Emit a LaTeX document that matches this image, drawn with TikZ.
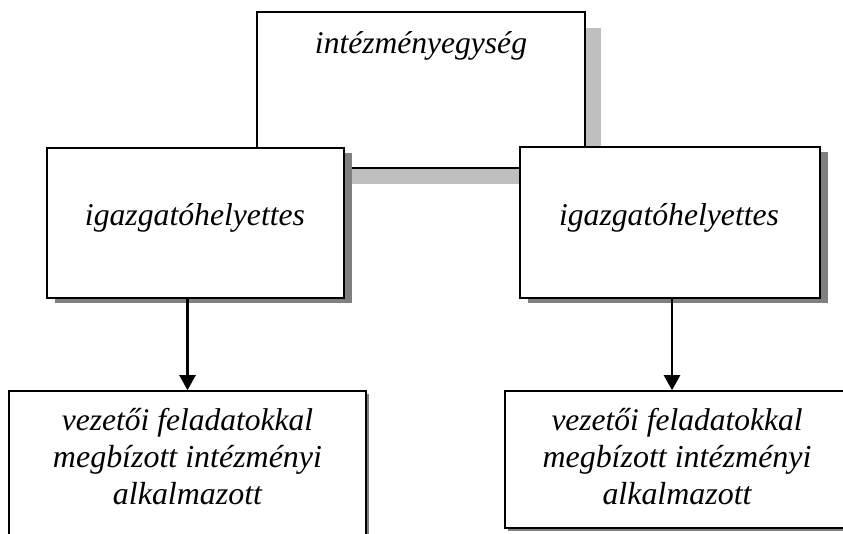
\documentclass[tikz,border=0pt]{standalone}
\usepackage{fontspec}
\setmainfont{Liberation Serif}[ItalicFont={Liberation Serif Italic}]
\usetikzlibrary{shadows,arrows.meta,calc}
\tikzset{
  box/.style={draw=black, line width=1.6pt, fill=white, rectangle, inner sep=0pt},
  lightshadow/.style={drop shadow={shadow xshift=16pt, shadow yshift=-16pt, fill=black!25, opacity=1}},
  darkshadow/.style={drop shadow={shadow xshift=8pt, shadow yshift=-5pt, fill=black!50, opacity=1}},
  thinshadow/.style={drop shadow={shadow xshift=3pt, shadow yshift=-3pt, fill=black!50, opacity=1}},
  lbl/.style={font=\fontsize{31.5}{37}\selectfont\itshape, inner sep=0pt, align=center},
  arr/.style={line width=2.3pt, -{Triangle[length=15pt,width=16pt]}},
}
\begin{document}
\begin{tikzpicture}[x=1pt,y=-1pt]
\useasboundingbox (0,0) rectangle (843,533);
\clip (0,0) rectangle (843,533);
% top box
\node[box, lightshadow, minimum width=328pt, minimum height=156pt] (top) at (421,90) {};
\node[lbl, anchor=base] (toptext) at (421,53) {\resizebox{212pt}{!}{intézményegység}};
% middle boxes
\node[box, darkshadow, minimum width=297pt, minimum height=150pt] (lb) at (195.5,223) {};
\node[lbl, anchor=base] (lbtext) at (195,225) {\resizebox{220pt}{!}{igazgatóhelyettes}};
\node[box, darkshadow, minimum width=300pt, minimum height=151pt] (rb) at (670,222.5) {};
\node[lbl, anchor=base] (rbtext) at (669,225) {\resizebox{220pt}{!}{igazgatóhelyettes}};
% bottom boxes
\node[box, thinshadow, minimum width=357pt, minimum height=200pt] (blb) at (187.5,491) {};
\node[lbl, anchor=base] (blbtext) at (187.5,504) {\resizebox{251pt}{!}{vezetői feladatokkal}\\\resizebox{269pt}{!}{megbízott intézményi}\\\resizebox{149pt}{!}{alkalmazott}};
\node[box, thinshadow, minimum width=344pt, minimum height=137pt] (brb) at (677,459.5) {};
\node[lbl, anchor=base] (brbtext) at (677,504) {\resizebox{251pt}{!}{vezetői feladatokkal}\\\resizebox{269pt}{!}{megbízott intézményi}\\\resizebox{149pt}{!}{alkalmazott}};
% arrows
\draw[arr] (lb.south -| blb.north) -- (blb.north);
\coordinate (ra) at ($(rb.south)+(2,0)$);
\draw[arr] (ra) -- (ra |- brb.north);
\end{tikzpicture}
\end{document}
